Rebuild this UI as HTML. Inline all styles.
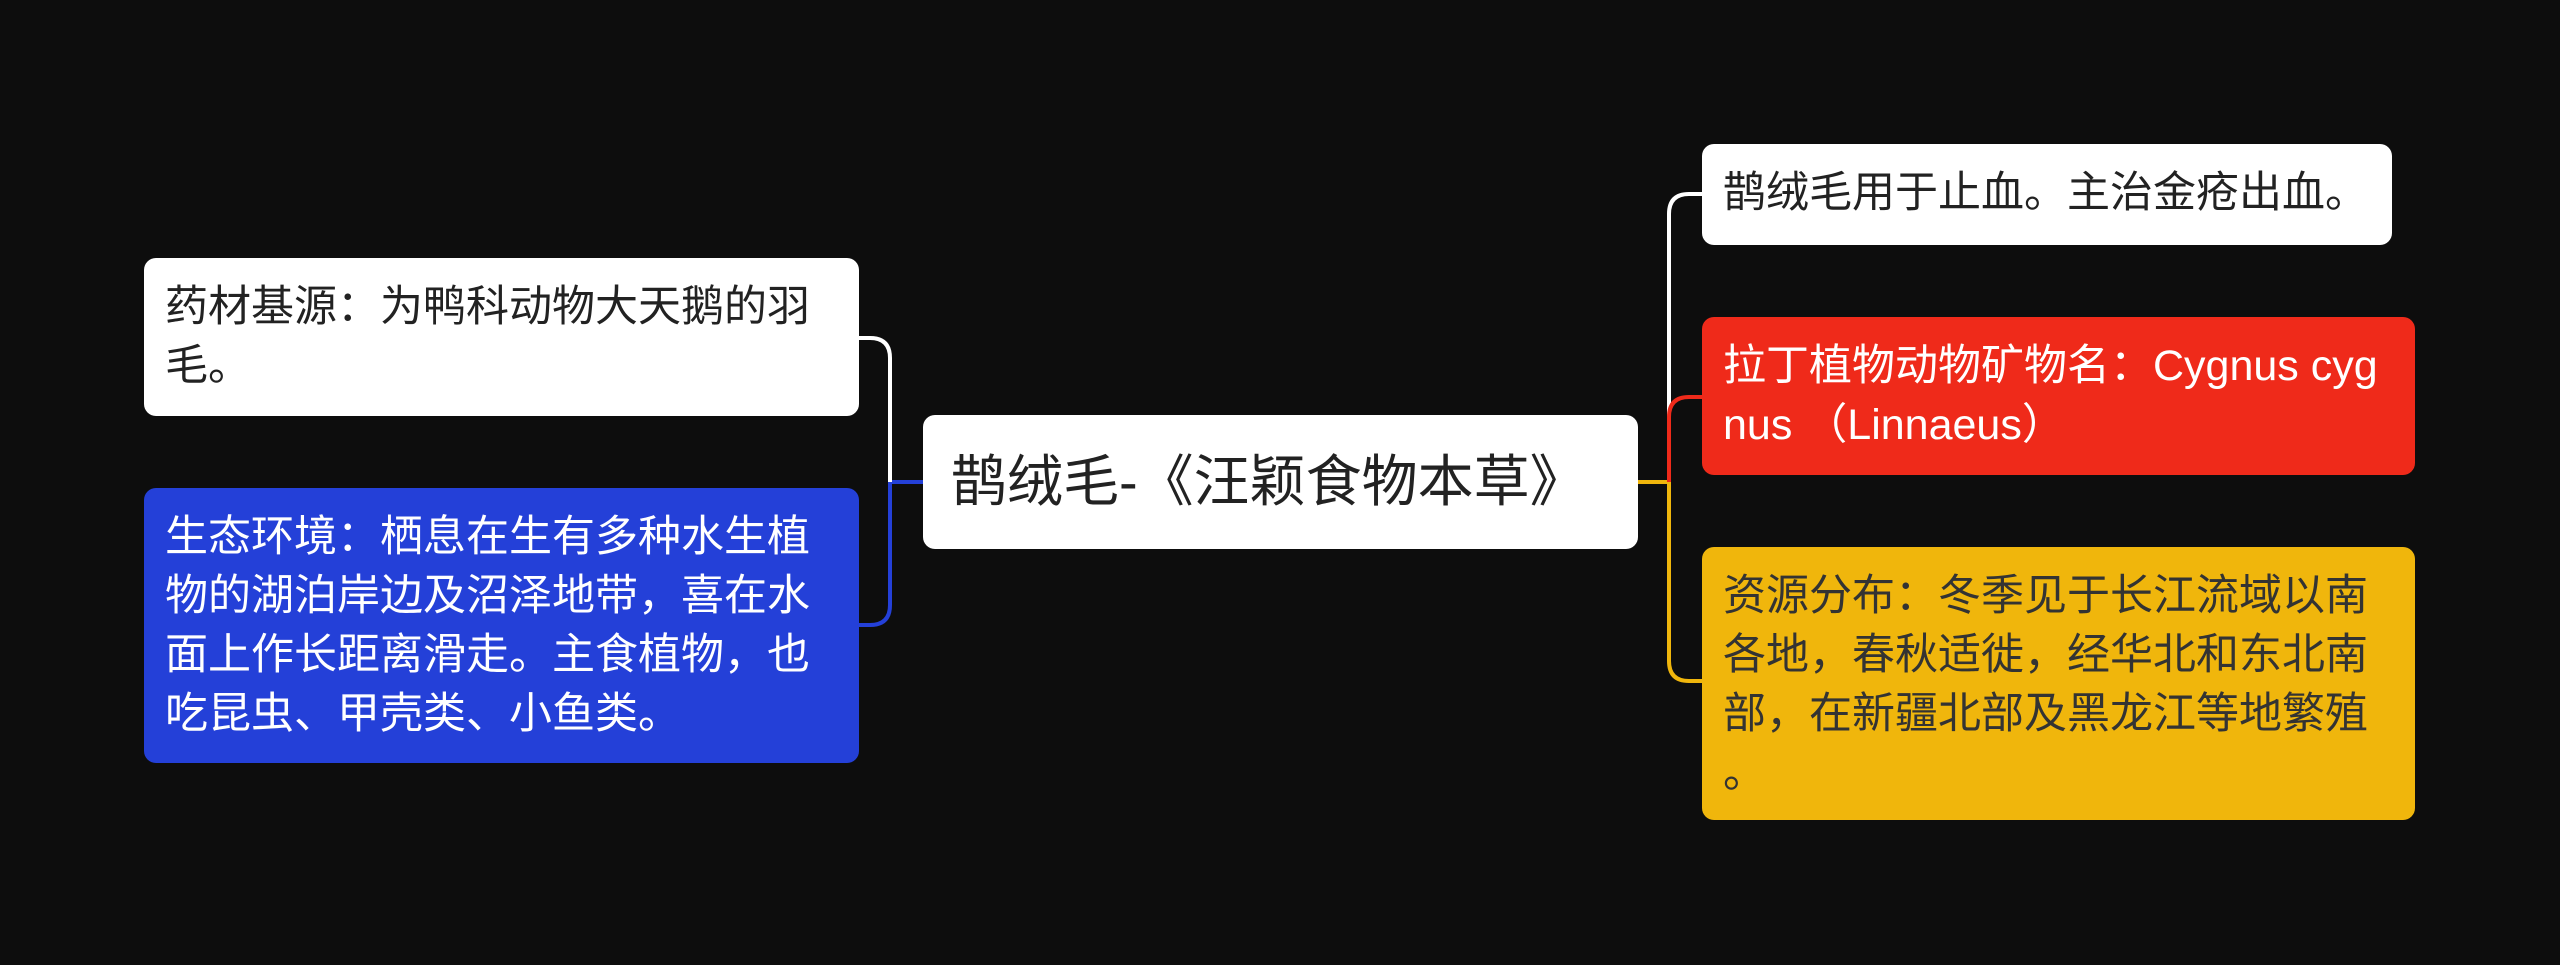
<!DOCTYPE html>
<html><head><meta charset="utf-8"><style>
html,body{margin:0;padding:0;background:#0d0d0d;}
body{width:2560px;height:965px;position:relative;overflow:hidden;font-family:"Liberation Sans","Noto Sans CJK SC",sans-serif;}
.b{position:absolute;box-sizing:border-box;border-radius:12px;font-size:43px;line-height:59px;padding:20px 21px;white-space:nowrap;color:#222;}
</style></head><body>
<svg width="2560" height="965" style="position:absolute;left:0;top:0">
<g fill="none" stroke-width="4">
<path d="M923 482 H890" stroke="#2440d8"/>
<path d="M890 482 V358 Q890 338 870 338 H859" stroke="#ffffff"/>
<path d="M890 482 V605 Q890 625 870 625 H859" stroke="#2440d8"/>
<path d="M1638 482 H1669" stroke="#f0b60c"/>
<path d="M1669 482 V214 Q1669 194 1689 194 H1702" stroke="#ffffff"/>
<path d="M1669 482 V417 Q1669 397 1689 397 H1702" stroke="#ef2a1a"/>
<path d="M1669 482 V661 Q1669 681 1689 681 H1702" stroke="#f0b60c"/>
</g></svg>
<div class="b" style="left:144px;top:258px;width:715px;height:158px;background:#fff;">药材基源：为鸭科动物大天鹅的羽<br>毛。</div>
<div class="b" style="left:144px;top:488px;width:715px;height:275px;background:#2440d8;color:#fff;">生态环境：栖息在生有多种水生植<br>物的湖泊岸边及沼泽地带，喜在水<br>面上作长距离滑走。主食植物，也<br>吃昆虫、甲壳类、小鱼类。</div>
<div class="b" style="left:923px;top:415px;width:715px;height:134px;background:#fff;font-size:56px;line-height:94px;padding:20px 28px;">鹊绒毛-《汪颖食物本草》</div>
<div class="b" style="left:1702px;top:144px;width:690px;height:101px;background:#fff;">鹊绒毛用于止血。主治金疮出血。</div>
<div class="b" style="left:1702px;top:317px;width:713px;height:158px;background:#ef2a1a;color:#fff;">拉丁植物动物矿物名：Cygnus cyg<br>nus （Linnaeus）</div>
<div class="b" style="left:1702px;top:547px;width:713px;height:273px;background:#f0b60c;color:#333;">资源分布：冬季见于长江流域以南<br>各地，春秋适徙，经华北和东北南<br>部，在新疆北部及黑龙江等地繁殖<br>。</div>
</body></html>
